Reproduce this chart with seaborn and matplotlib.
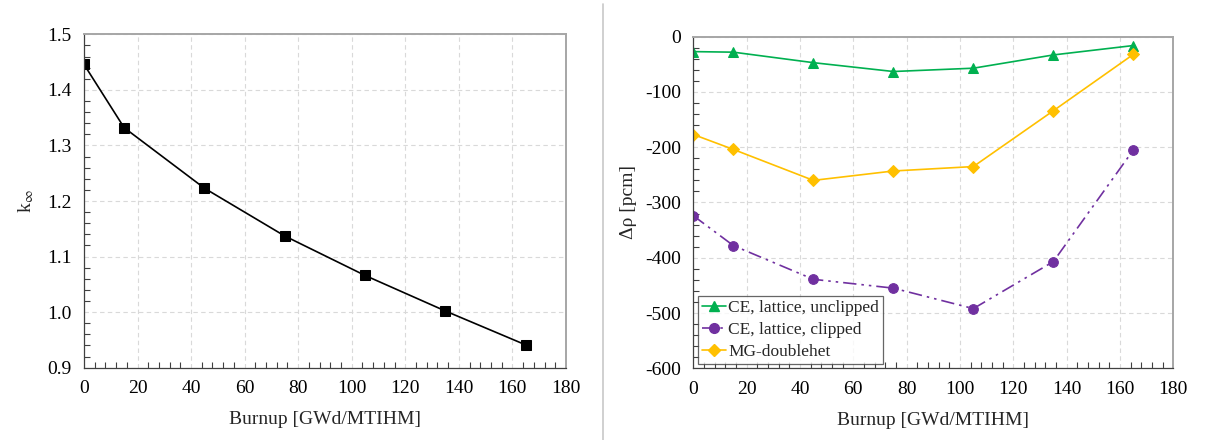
import matplotlib
matplotlib.use("Agg")
import matplotlib.pyplot as plt
from matplotlib.ticker import MultipleLocator, FormatStrFormatter
from matplotlib.lines import Line2D
import seaborn as sns

# Burnup steps [GWd/MTIHM]
burnup = [0, 15, 45, 75, 105, 135, 165]

# Infinite multiplication factor
k_inf = [1.446, 1.332, 1.223, 1.137, 1.066, 1.002, 0.941]

# Reactivity differences [pcm]
ce_unclipped = [-27, -28, -47, -63, -57, -33, -16]
ce_clipped = [-324, -378, -439, -455, -492, -407, -205]
mg_doublehet = [-177, -204, -260, -243, -235, -134, -32]

x_ticks = [0, 20, 40, 60, 80, 100, 120, 140, 160, 180]

sns.set_theme(style="white")
plt.rcParams["font.family"] = ["Liberation Serif", "DejaVu Serif"]
plt.rcParams["mathtext.fontset"] = "stix"
plt.rcParams["axes.unicode_minus"] = False

GREEN = "#00B050"
PURPLE = "#7030A0"
YELLOW = "#FFC000"
FS = 14

fig = plt.figure(figsize=(12.08, 4.4), dpi=100)
ax1 = fig.add_axes([0.0695, 0.1643, 0.399, 0.7577])
ax2 = fig.add_axes([0.574, 0.163, 0.3973, 0.7536])


def style_axes(ax):
    for side in ("left", "bottom"):
        ax.spines[side].set_color("#404040")
        ax.spines[side].set_linewidth(0.9)
    for side in ("top", "right"):
        ax.spines[side].set_color("#A6A6A6")
        ax.spines[side].set_linewidth(1.4)
    ax.grid(True, which="major", color="#D9D9D9", linestyle=(0, (4, 3)), linewidth=0.8)
    ax.set_axisbelow(True)
    ax.set_xlim(0, 180)
    ax.set_xticks(x_ticks)
    ax.xaxis.set_minor_locator(MultipleLocator(4))
    ax.tick_params(axis="both", which="major", length=0, pad=9, labelsize=FS,
                   colors="black")
    ax.tick_params(axis="both", which="minor", direction="in", length=4,
                   width=0.8, color="#404040", left=True, bottom=True)
    ax.set_xlabel("Burnup [GWd/MTIHM]", fontsize=FS, labelpad=10)


# Left panel: k-infinity vs burnup
sns.lineplot(x=burnup, y=k_inf, ax=ax1, color="black", marker="s",
             markersize=6.5, markeredgecolor="black", linewidth=1.2)
style_axes(ax1)
ax1.set_ylim(0.9, 1.5)
ax1.yaxis.set_major_locator(MultipleLocator(0.1))
ax1.yaxis.set_minor_locator(MultipleLocator(0.02))
ax1.yaxis.set_major_formatter(FormatStrFormatter("%.1f"))
ax1.set_ylabel(r"k$_{\infty}$", fontsize=FS, labelpad=8)

# Right panel: reactivity differences
dash_dot_dot = (0, (8, 3, 1.5, 3, 1.5, 3))
sns.lineplot(x=burnup, y=ce_unclipped, ax=ax2, color=GREEN, marker="^",
             markersize=7, markeredgecolor=GREEN, linewidth=1.2)
sns.lineplot(x=burnup, y=ce_clipped, ax=ax2, color=PURPLE, marker="o",
             markersize=7, markeredgecolor=PURPLE, linewidth=1.2,
             linestyle=dash_dot_dot)
sns.lineplot(x=burnup, y=mg_doublehet, ax=ax2, color=YELLOW, marker="D",
             markersize=6, markeredgecolor=YELLOW, linewidth=1.2)
style_axes(ax2)
ax2.set_ylim(-600, 0)
ax2.yaxis.set_major_locator(MultipleLocator(100))
ax2.yaxis.set_minor_locator(MultipleLocator(20))
ax2.set_ylabel("Δρ [pcm]", fontsize=FS, labelpad=6)

handles = [
    Line2D([], [], color=GREEN, marker="^", markersize=7, linewidth=1.2),
    Line2D([], [], color=PURPLE, marker="o", markersize=7, linewidth=1.2,
           linestyle=dash_dot_dot),
    Line2D([], [], color=YELLOW, marker="D", markersize=6, linewidth=1.2),
]
labels = ["CE, lattice, unclipped", "CE, lattice, clipped", "MG-doublehet"]
leg = ax2.legend(handles, labels, loc="lower left", bbox_to_anchor=(0.0, 0.0),
                 fontsize=12.5, frameon=True, fancybox=False, handlelength=1.4,
                 handletextpad=0.1, borderpad=0.25, labelspacing=0.32,
                 borderaxespad=0.25)
leg.get_frame().set_edgecolor("#404040")
leg.get_frame().set_linewidth(0.9)

# Divider between the two panels
fig.add_artist(Line2D([603 / 1208, 603 / 1208], [0.0, 0.99],
                      transform=fig.transFigure, color="#C8C8C8", linewidth=1.2))

fig.savefig("out.png", dpi=100, facecolor="white")
